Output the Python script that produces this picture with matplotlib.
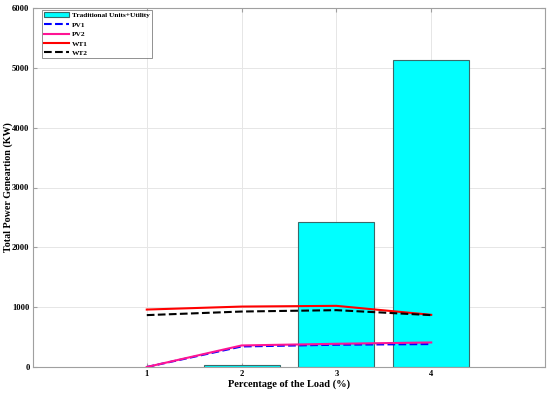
import numpy as np
import matplotlib.pyplot as plt

plt.rcParams['font.family'] = ['Liberation Serif', 'DejaVu Serif']
plt.rcParams['font.weight'] = 'bold'

# data
load_x = [1, 2, 3, 4]
bar_x = [2, 3, 4]
trad_units = [40, 2420, 5130]
pv1 = [0, 343, 372, 383]
pv2 = [0, 360, 388, 410]
wt1 = [960, 1010, 1022, 872]
wt2 = [867, 927, 950, 867]

fig = plt.figure(figsize=(5.5, 3.95), dpi=100)
ax = fig.add_axes([33/550, 1-367/395, 512/550, 359/395])

b = ax.bar(bar_x, trad_units, width=0.8, color='#00ffff', edgecolor='#3a6a6a',
           linewidth=0.8, label='Traditional Units+Utility', zorder=2)
l1, = ax.plot(load_x, pv1, '--', color='#0000ff', lw=1.5, label='PV1', zorder=3)
l2, = ax.plot(load_x, pv2, '-', color='#ff1493', lw=1.5, label='PV2', zorder=3)
l3, = ax.plot(load_x, wt1, '-', color='#ff0000', lw=1.5, label='WT1', zorder=3)
l4, = ax.plot(load_x, wt2, '--', color='black', lw=1.5, label='WT2', zorder=3)

ax.set_xlim(-0.2, 5.2)
ax.set_ylim(0, 6000)
ax.set_xticks(load_x)
ax.set_yticks(np.arange(0, 6001, 1000))
ax.grid(True, color='#e6e6e6', lw=0.7, zorder=0)
ax.set_axisbelow(True)
for s in ax.spines.values():
    s.set_color('#a0a0a0')
    s.set_linewidth(0.8)
ax.tick_params(labelsize=6.2, length=3, color='#a0a0a0', right=True, top=True,
               direction='in', pad=2.5)
for t in ax.get_xticklabels() + ax.get_yticklabels():
    t.set_fontweight('bold')

ax.set_xlabel('Percentage of the Load (%)', fontsize=7.5, fontweight='bold', labelpad=1)
ax.set_ylabel('Total Power Geneartion (KW)', fontsize=7.2, fontweight='bold')
ax.yaxis.set_label_coords(-0.039, 0.5)

leg = ax.legend([b, l1, l2, l3, l4],
                ['Traditional Units+Utility', 'PV1', 'PV2', 'WT1', 'WT2'],
                loc='upper left', prop={'weight': 'bold', 'size': 5.3},
                frameon=True, fancybox=False, edgecolor='#606060',
                borderpad=0.3, labelspacing=0.45, handlelength=3.3,
                handletextpad=0.4, bbox_to_anchor=(0.018, 0.995), borderaxespad=0)
leg.get_frame().set_linewidth(0.6)

fig.savefig('out.png', dpi=100)
